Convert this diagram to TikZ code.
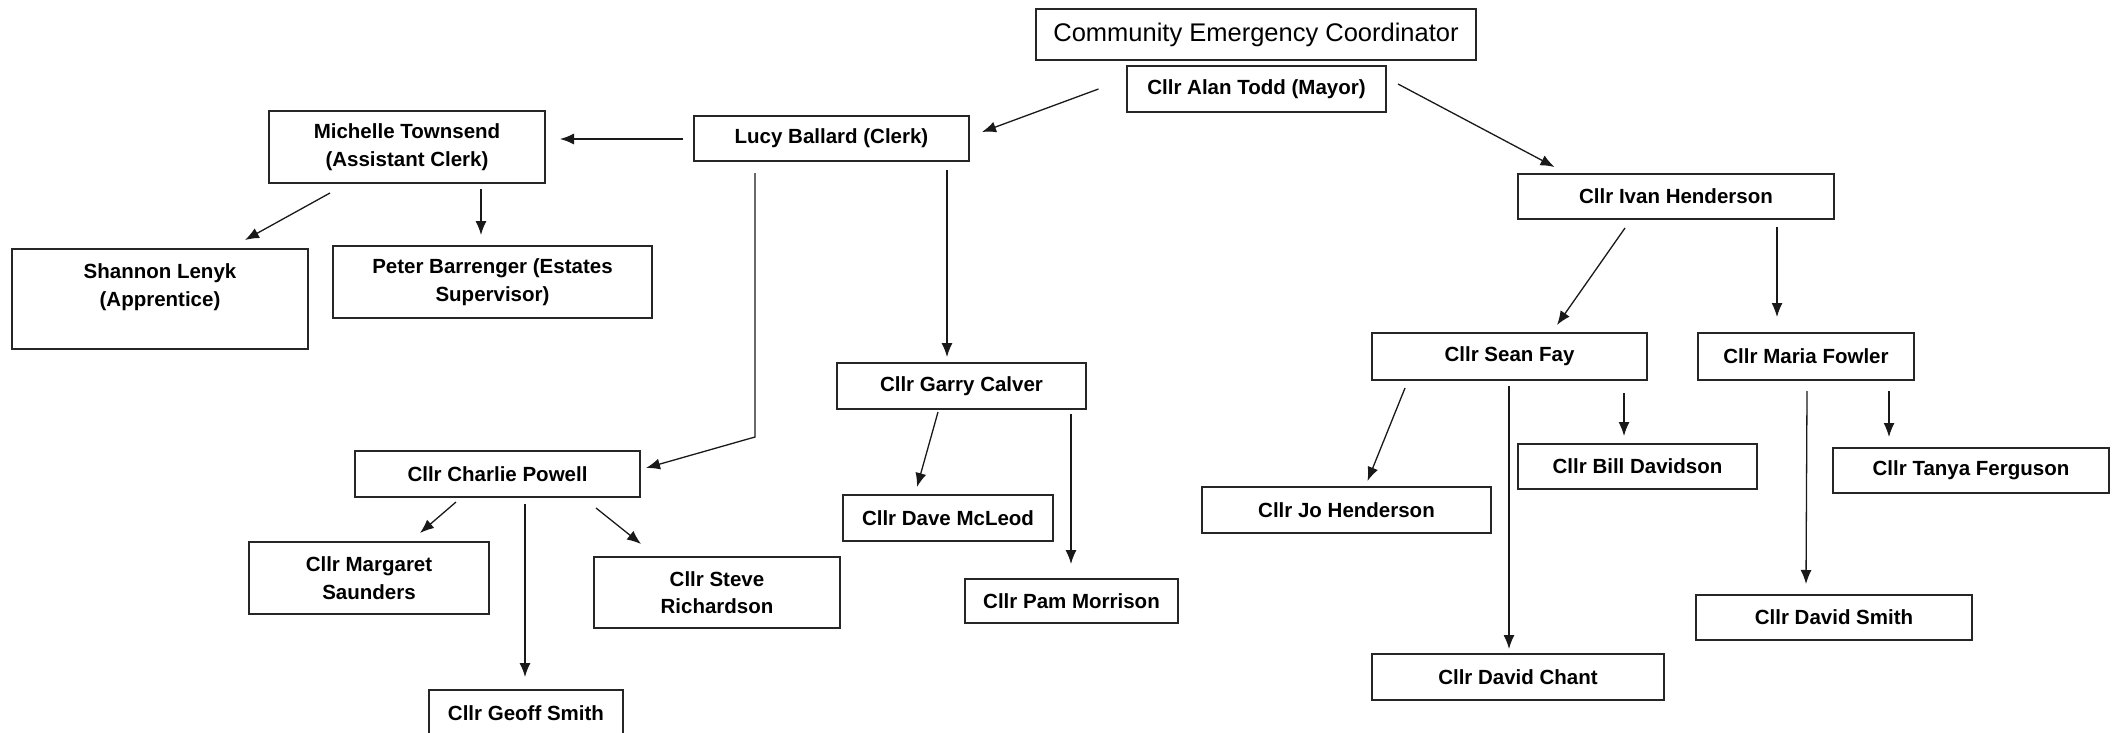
\documentclass[tikz,border=0pt]{standalone}
\usepackage{fontspec}
\setmainfont{Liberation Sans}
\usetikzlibrary{arrows.meta,calc}
\tikzset{
  box/.style={draw=black!85, line width=1.5pt, rectangle, inner sep=0pt, align=center,
    font=\fontsize{20.5}{27.5}\selectfont\bfseries},
  arr/.style={draw=black!90, line width=1.3pt, -{Latex[length=14pt,width=11pt]}},
}
\newcommand{\bx}[6]{\node[box, minimum width=#3pt, minimum height=#4pt, #6] (#5) at (#1,#2) {}}
\begin{document}
\begin{tikzpicture}[x=1pt,y=-1pt]
\useasboundingbox (0,0) rectangle (2119,733);
\fill[white] (0,0) rectangle (2119,733);
% nodes
\node[box, minimum width=440pt, minimum height=51pt, font=\fontsize{25.5}{30}\selectfont] (cec) at (1256,34.5) {Community Emergency Coordinator};
\node[box, minimum width=259pt, minimum height=46pt] (mayor) at (1256.5,89) {Cllr Alan Todd (Mayor)};
\node[box, minimum width=275pt, minimum height=45pt] (lucy) at (831.5,138.5) {Lucy Ballard (Clerk)};
\node[box, minimum width=276pt, minimum height=72pt] (michelle) at (407,147) {Michelle Townsend\\(Assistant Clerk)};
\node[box, minimum width=296pt, minimum height=100pt,
  label={[font=\fontsize{20.5}{27.5}\selectfont\bfseries, align=center, anchor=center, yshift=12pt]center:{Shannon Lenyk\\(Apprentice)}}] (shannon) at (160,299) {};
\node[box, minimum width=319pt, minimum height=72pt] (peter) at (492.5,282) {Peter Barrenger (Estates\\Supervisor)};
\node[box, minimum width=316pt, minimum height=45pt] (ivan) at (1676,196.5) {Cllr Ivan Henderson};
\node[box, minimum width=275pt, minimum height=47pt] (sean) at (1509.5,356.5) {Cllr Sean Fay};
\node[box, minimum width=216pt, minimum height=47pt] (maria) at (1806,356.5) {Cllr Maria Fowler};
\node[box, minimum width=249pt, minimum height=46pt] (garry) at (961.5,386) {Cllr Garry Calver};
\node[box, minimum width=285pt, minimum height=46pt] (charlie) at (497.5,474) {Cllr Charlie Powell};
\node[box, minimum width=210pt, minimum height=46pt] (dave) at (948,518) {Cllr Dave McLeod};
\node[box, minimum width=213pt, minimum height=44pt] (pam) at (1071.5,601) {Cllr Pam Morrison};
\node[box, minimum width=240pt, minimum height=72pt] (margaret) at (369,578) {Cllr Margaret\\Saunders};
\node[box, minimum width=246pt, minimum height=71pt] (steve) at (717,592.5) {Cllr Steve\\Richardson};
\node[box, minimum width=194pt, minimum height=46pt] (geoff) at (526,713) {Cllr Geoff Smith};
\node[box, minimum width=239pt, minimum height=45pt] (bill) at (1637.5,466.5) {Cllr Bill Davidson};
\node[box, minimum width=289pt, minimum height=46pt] (jo) at (1346.5,510) {Cllr Jo Henderson};
\node[box, minimum width=292pt, minimum height=46pt] (chant) at (1518,677) {Cllr David Chant};
\node[box, minimum width=276pt, minimum height=45pt] (tanya) at (1971,470.5) {Cllr Tanya Ferguson};
\node[box, minimum width=276pt, minimum height=45pt] (dsmith) at (1834,617.5) {Cllr David Smith};
% connectors
\draw[arr] ([shift={(-158,0)}]mayor.center) -- ([shift={(150.5,-6.5)}]lucy.center);
\draw[arr] ([shift={(141.5,-5)}]mayor.center) -- ([shift={(-121.5,-29.5)}]ivan.center);
\draw[arr] ([shift={(-148.5,0.5)}]lucy.center) -- ([shift={(153,-8)}]michelle.center);
\draw[arr] ([shift={(-77,46)}]michelle.center) -- ([shift={(85,-59)}]shannon.center);
\draw[arr] ([shift={(74,42)}]michelle.center) -- ([shift={(-11.5,-47)}]peter.center);
\draw[arr] ([shift={(-76.5,34.5)}]lucy.center) -- ++(0,264) -- ([shift={(148.5,-6)}]charlie.center);
\draw[arr] ([shift={(115.5,31.5)}]lucy.center) -- ([shift={(-14.5,-29)}]garry.center);
\draw[arr] ([shift={(-51,31.5)}]ivan.center) -- ([shift={(47.5,-31.5)}]sean.center);
\draw[arr] ([shift={(101,30.5)}]ivan.center) -- ([shift={(-29,-39.5)}]maria.center);
\draw[arr] ([shift={(-41.5,28)}]charlie.center) -- ([shift={(51,-45)}]margaret.center);
\draw[arr] ([shift={(27.5,30)}]charlie.center) -- ([shift={(-1,-36)}]geoff.center);
\draw[arr] ([shift={(98.5,34)}]charlie.center) -- ([shift={(-76,-48.5)}]steve.center);
\draw[arr] ([shift={(-23.5,26)}]garry.center) -- ([shift={(-31,-31)}]dave.center);
\draw[arr] ([shift={(109.5,28)}]garry.center) -- ([shift={(-0.5,-37)}]pam.center);
\draw[arr] ([shift={(-104.5,31.5)}]sean.center) -- ([shift={(21,-29)}]jo.center);
\draw[arr] ([shift={(-0.5,29.5)}]sean.center) -- ([shift={(-9,-28)}]chant.center);
\draw[arr] ([shift={(114.5,36.5)}]sean.center) -- ([shift={(-13.5,-30.5)}]bill.center);
\draw[arr] ([shift={(1,34.5)}]maria.center) -- ([shift={(-28,-33.5)}]dsmith.center);
\draw[arr] ([shift={(83,34.5)}]maria.center) -- ([shift={(-82,-33.5)}]tanya.center);
\end{tikzpicture}
\end{document}
